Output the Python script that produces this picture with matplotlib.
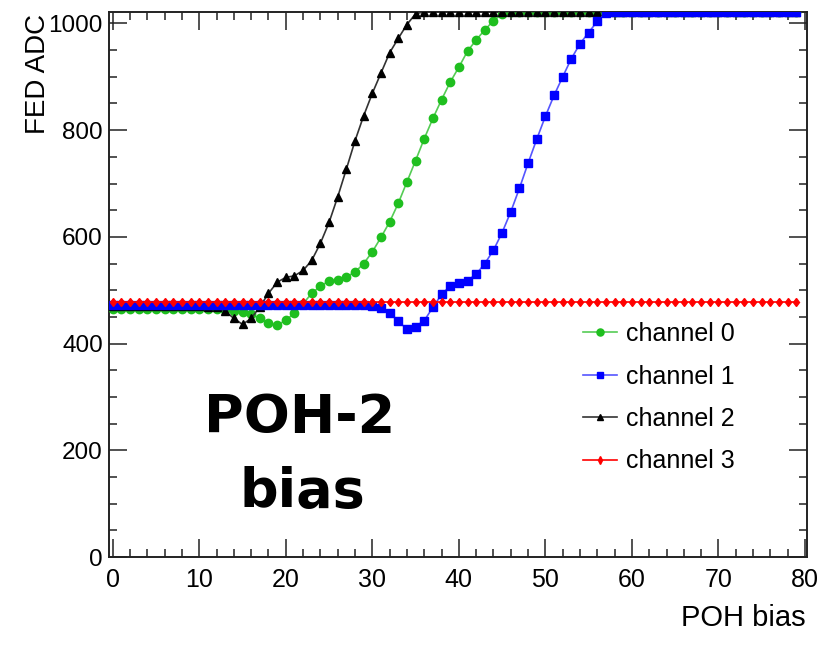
import matplotlib
matplotlib.use("Agg")
import matplotlib.pyplot as plt
from matplotlib.ticker import MultipleLocator

# ---------------- data ----------------
poh_bias = list(range(80))

channel_0 = ([464] * 13 +
             [463, 461, 459, 455, 447, 438, 434, 444, 457, 475, 494, 508, 517, 519,
              525, 534, 550, 572, 599, 628, 663, 703, 743, 784, 822, 857, 890, 918,
              948, 969, 988, 1005, 1018] +
             [1022] * 34)

channel_1 = ([473] * 29 +
             [472, 470, 466, 458, 442, 427, 432, 443, 468, 492, 508, 513, 518, 530,
              550, 575, 608, 647, 691, 738, 783, 826, 865, 900, 934, 962, 983, 1004,
              1019] +
             [1022] * 22)

channel_2 = ([470] * 11 +
             [469, 468, 461, 447, 436, 447, 469, 494, 515, 524, 527, 537, 556, 588,
              627, 675, 727, 780, 827, 869, 907, 945, 972, 998, 1018] +
             [1022] * 44)

channel_3 = [477] * 80

labels = ["channel 0", "channel 1", "channel 2", "channel 3"]
x_label = "POH bias"
y_label = "FED ADC"
title_lines = ["POH-2", "bias"]

# ---------------- figure ----------------
W, H = 821, 645
fig = plt.figure(figsize=(W / 100, H / 100), dpi=100)
ax = fig.add_axes([108.5 / W, 1 - 557 / H, (806.7 - 108.5) / W, (557 - 11.7) / H])

regular = ["Liberation Sans", "DejaVu Sans"]

green = "#1fbf1f"
blue = "#0000ff"
red = "#ff0000"
black = "#000000"

l0, = ax.plot(poh_bias, channel_0, color="#55cc55", lw=1.2, marker="o", ms=6.0,
              mfc=green, mec=green, zorder=3)
l2, = ax.plot(poh_bias, channel_2, color="#333333", lw=1.2, marker="^", ms=5.6,
              mfc=black, mec=black, zorder=4)
l1, = ax.plot(poh_bias, channel_1, color="#5555ff", lw=1.2, marker="s", ms=5.4,
              mfc=blue, mec=blue, zorder=5)
l3, = ax.plot(poh_bias, channel_3, color=red, lw=1.2, marker="d", ms=4.5,
              mfc=red, mec=red, zorder=6)

ax.set_xlim(-0.49, 80.2)
ax.set_ylim(0, 1022)

ax.xaxis.set_major_locator(MultipleLocator(10))
ax.xaxis.set_minor_locator(MultipleLocator(2))
ax.yaxis.set_major_locator(MultipleLocator(200))
ax.yaxis.set_minor_locator(MultipleLocator(50))

ax.tick_params(which="both", direction="in", top=True, right=True, color="#222222")
ax.tick_params(which="major", length=13, width=1.1)
ax.tick_params(which="minor", length=6, width=1.1)
ax.tick_params(axis="x", which="major", pad=8, labelsize=18)
ax.tick_params(axis="y", which="major", pad=4, labelsize=17.5)
for lab in ax.get_xticklabels() + ax.get_yticklabels():
    lab.set_family(regular)

for s in ax.spines.values():
    s.set_linewidth(1.4)
    s.set_color("#222222")

fig.text(38 / W, 1 - 14 / H, y_label, rotation=90, ha="center", va="top",
         fontsize=20, family=regular)
fig.text(806 / W, 1 - 618 / H, x_label, ha="right", va="center",
         fontsize=21, family=regular)

fig.text(300 / W, 1 - 433 / H, title_lines[0], ha="center", va="baseline",
         fontsize=39, fontweight="bold", family=["DejaVu Sans"])
fig.text(302 / W, 1 - 507 / H, title_lines[1], ha="center", va="baseline",
         fontsize=39, fontweight="bold", family=["DejaVu Sans"])

leg = fig.legend([l0, l1, l2, l3], labels, loc="upper left",
                 bbox_to_anchor=(583 / W, 1 - 322 / H), bbox_transform=fig.transFigure,
                 frameon=False, borderpad=0, borderaxespad=0, handlelength=1.35,
                 handletextpad=0.35, labelspacing=0.74, prop={"family": regular, "size": 18},
                 markerscale=0.85)

fig.savefig("out.png", dpi=100)
